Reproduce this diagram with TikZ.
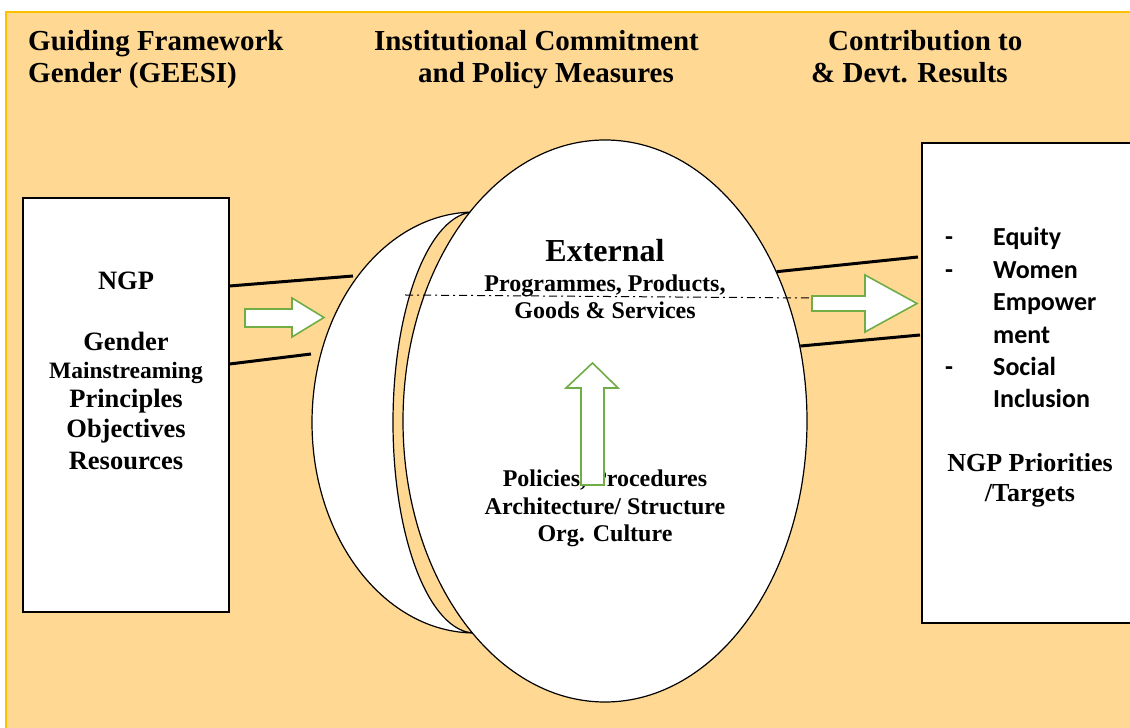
\documentclass[tikz,border=0pt]{standalone}
\usepackage{fontspec}
\setmainfont{Liberation Serif}
\newfontfamily\calibri{Carlito}
\usetikzlibrary{shapes.geometric}

\definecolor{peach}{RGB}{255,217,148}
\definecolor{frameyellow}{RGB}{255,192,0}
\definecolor{arrowgreen}{RGB}{112,173,71}

\tikzset{
  heading/.style={font=\fontsize{29}{33}\selectfont\bfseries, inner sep=0pt, anchor=base west},
  boxtext/.style={font=\fontsize{26.5}{30}\selectfont\bfseries, inner sep=0pt, anchor=base},
  disctext/.style={font=\fontsize{24}{27}\selectfont\bfseries, inner sep=0pt, anchor=base},
  listtext/.style={font=\calibri\fontsize{26}{32}\selectfont\bfseries, inner sep=0pt, anchor=base west},
  panel/.style={draw, fill=white, line width=1.2pt, inner sep=0pt},
  bar/.style={line width=3pt},
  fatarrow/.style={draw=arrowgreen, line width=1.6pt, fill=white, line join=miter},
}

\begin{document}
\begin{tikzpicture}[x=1pt,y=1pt]
\useasboundingbox (0,0) rectangle (1130,728);

% Background panel
\fill[peach] (6,0) rectangle (1130,716);
\draw[frameyellow, line width=1.2pt] (6,0) -- (6,716) -- (1130,716);

% Column headings
\node[heading] (headA1) at (28,677) {Guiding Framework};
\node[heading] (headA2) at (28,645) {Gender (GEESI)};
\node[heading] (headB1) at (374,677) {Institutional Commitment};
\node[heading] (headB2) at (418,645) {and Policy Measures};
\node[heading] (headC1) at (828,677) {Contribution to};
\node[heading] (headC2) at (811,645) {\& Devt. Results};

% Side boxes
\node[panel, minimum width=206pt, minimum height=414pt] (ngpbox) at (126,323) {};
\node[panel, minimum width=230pt, minimum height=480pt] (resultsbox) at (1037,345) {};

% Disc seen from the side, then its face
\filldraw[fill=white, line width=1.2pt] (475,516)
  arc[start angle=90, end angle=270, x radius=163, y radius=210.5]
  arc[start angle=270, end angle=90, x radius=82, y radius=210.5] -- cycle;
\node[ellipse, panel, minimum width=404pt, minimum height=562pt] (extdisc) at (605,307) {};

% Bars between boxes and disc
\coordinate (rimUp) at (353,452);
\coordinate (rimLow) at (311,374);
\coordinate (resUp) at (918,471);
\coordinate (resLow) at (920,393);
\draw[bar] (ngpbox.east |- 0,442) -- (rimUp);
\draw[bar] (ngpbox.east |- 0,364) -- (rimLow);
\draw[bar] (extdisc.41) -- (resUp);
\draw[bar] (extdisc.21) -- (resLow);

% Split line
\coordinate (splitL) at (405,433);
\coordinate (splitR) at (810,430);
\draw[line width=1pt, dash pattern=on 8pt off 4pt on 2pt off 4pt] (splitL) -- (splitR);

% Left box text
\node[boxtext] (ngp) at (126,438) {NGP};
\foreach \yy/\txt [count=\i] in {377/Gender,
  349/{\fontsize{23.5}{26}\selectfont Mainstreaming},
  320/Principles, 290/Objectives, 258/Resources} {
  \node[boxtext] (principle\i) at (126,\yy) {\txt};
}

% Disc text
\node[disctext, font=\fontsize{32}{36}\selectfont\bfseries] (external) at (605,466) {External};
\foreach \yy/\txt [count=\i] in {436/{Programmes, Products,}, 409/{Goods \& Services},
  241/{Policies, Procedures}, 213/{Architecture/ Structure}, 186/{Org. Culture}} {
  \node[disctext] (measure\i) at (605,\yy) {\txt};
}

% Results list
\foreach \yy/\dash/\txt [count=\i] in {482/-/Equity, 449.6/-/Women, 417.2//Empower,
  384.8//ment, 352.4/-/Social, 320//Inclusion} {
  \node[listtext] (dash\i) at (945,\yy) {\dash};
  \node[listtext] (result\i) at (993,\yy) {\txt};
}
\node[boxtext, font=\fontsize{26}{30}\selectfont\bfseries] (prio1) at (1030,256) {NGP Priorities};
\node[boxtext, font=\fontsize{26}{30}\selectfont\bfseries] (prio2) at (1030,226) {/Targets};

% Green arrows
\draw[fatarrow] (245,419) -- (292,419) -- (292,430) -- (324,410.5) -- (292,391) -- (292,401) -- (245,401) -- cycle;
\draw[fatarrow] (812,432) -- (865,432) -- (865,453) -- (917,424.5) -- (865,396) -- (865,417) -- (812,417) -- cycle;
\draw[fatarrow] (581,243) -- (581,340) -- (566,340) -- (592.5,365) -- (618,340) -- (604,340) -- (604,243) -- cycle;

\end{tikzpicture}
\end{document}
